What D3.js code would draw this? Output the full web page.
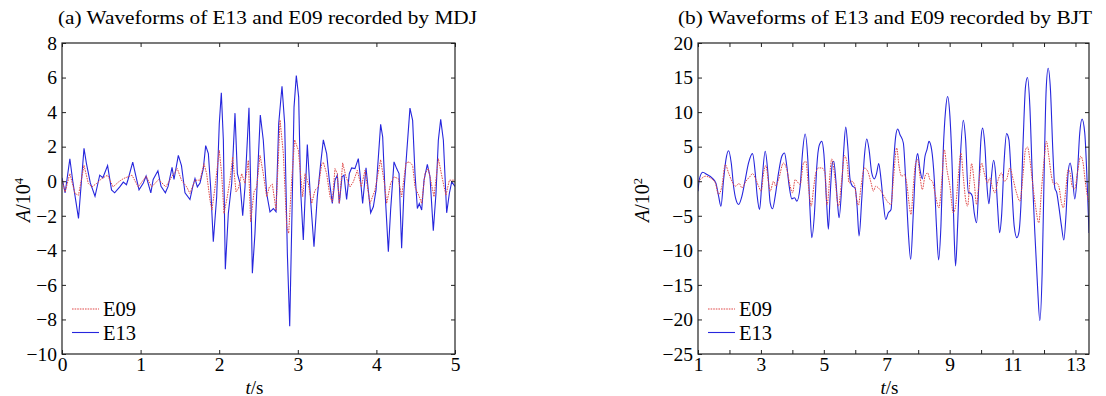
<!DOCTYPE html>
<html><head><meta charset="utf-8">
<script src="https://cdn.jsdelivr.net/npm/d3@7"></script>
<style>
body{margin:0;background:#fff}
svg{display:block}
svg text{font-family:"Liberation Serif","Times New Roman",serif !important;fill:#000}
</style>
</head><body>
<svg id="chart" width="1106" height="396"></svg>
<script>
// ---------- Data ----------
// (a) MDJ, amplitude in 10^4
const mdjTime13 = [0.00,0.04,0.10,0.14,0.21,0.28,0.31,0.36,0.42,0.48,0.52,0.58,0.63,0.67,0.74,0.78,0.82,0.84,0.90,0.94,0.98,1.035,1.07,1.13,1.16,1.22,1.26,1.315,1.35,1.40,1.425,1.48,1.52,1.565,
1.628,1.663,1.692,1.722,1.756,1.798,1.828,1.862,1.891,1.925,1.968,2.001,2.027,2.053,2.078,2.116,2.159,2.201,2.231,2.265,2.299,2.328,2.379,2.40,2.422,2.455,2.485,2.523,2.561,2.604,2.646,2.689,2.723,2.757,2.799,2.833,2.867,2.897,2.926,2.952,2.981,3.011,3.036,3.070,3.121,3.163,3.206,3.248,3.291,3.325,
3.367,3.401,3.439,3.473,3.503,3.528,3.562,3.588,3.621,3.655,3.685,3.727,3.770,3.791,3.825,3.868,3.897,3.927,3.961,3.995,4.025,4.054,4.080,4.109,4.152,4.181,4.224,4.258,4.288,4.321,4.351,4.385,4.427,4.461,4.491,4.521,4.546,4.576,4.606,4.648,4.682,4.724,4.758,4.788,4.818,4.852,4.894,4.928,4.958,5.00];
const mdjE13 = [0.2,-0.67,1.3,-0.1,-2.15,1.9,1.05,-0.1,-0.87,0.35,0.2,0.9,-0.5,-0.67,-0.3,-0.05,-0.2,0.1,1.1,0.3,-0.5,-0.1,0.3,-0.67,0.1,0.6,-0.3,-0.67,-0.3,0.8,0.1,1.5,0.9,-0.67,
-1.06,-0.33,0.15,-0.33,-0.1,0.73,2.06,1.6,-0.33,-3.5,-0.9,3.33,5.12,2.37,-5.1,-1.87,-0.13,3.94,0.44,-0.13,-2.0,-0.33,4.25,-0.13,-5.33,-3.02,0.06,3.83,2.37,-0.71,-1.77,-1.58,-1.77,3.33,5.5,3.33,-4.17,-8.4,-1.87,4.29,6.12,4.87,-0.52,-3.4,2.13,-1.1,-3.79,-0.9,1.02,2.4,
1.6,0.06,-1.29,0.06,0.35,-1.29,0.25,0.35,-1.06,0.44,0.77,0.73,1.31,0.44,-1.29,0.77,-0.52,-1.83,-1.48,-0.52,1.40,3.29,2.56,-0.52,-4.08,-1.67,1.12,0.73,0.44,-3.88,-0.52,1.60,4.23,3.52,0.44,-1.58,-1.29,-1.67,0.06,0.98,0.25,-2.87,-0.71,2.37,3.58,2.37,-1.83,-0.71,-0.04,-0.3];

const mdjTime09 = [0.00,0.04,0.10,0.165,0.21,0.28,0.335,0.38,0.44,0.505,0.58,0.65,0.72,0.78,0.89,0.97,1.07,1.14,1.23,1.32,1.395,1.467,1.52,1.586,
1.628,1.692,1.756,1.806,1.840,1.883,1.908,1.947,2.001,2.031,2.061,2.103,2.137,2.171,2.214,2.244,2.286,2.328,2.371,2.40,2.443,2.477,2.519,2.561,2.604,2.638,2.676,2.723,2.774,2.816,2.859,2.884,2.922,2.960,3.007,3.062,3.092,3.134,3.177,3.219,3.262,3.304,
3.325,3.367,3.410,3.439,3.473,3.503,3.528,3.571,3.613,3.664,3.706,3.757,3.808,3.855,3.918,3.982,4.054,4.109,4.130,4.181,4.224,4.279,4.321,4.376,4.419,4.461,4.491,4.546,4.576,4.618,4.661,4.733,4.788,4.843,4.885,4.928,5.00];
const mdjE09 = [0.06,-0.62,0.44,-0.71,-0.81,0.92,-0.13,-0.33,-0.13,0.15,0.35,-0.33,-0.04,0.15,0.35,-0.33,0.29,-0.33,0.10,-0.33,0.25,0.73,0.06,-0.33,
-0.71,0.06,0.06,1.02,0.44,-1.10,-1.67,-0.33,1.79,0.44,-1.87,-0.90,0.06,1.40,-0.62,-0.42,0.44,-0.13,1.21,-2.35,-0.62,-0.33,1.50,0.44,-0.90,-0.33,-0.17,-1.67,3.54,1.60,-2.63,-3.02,0.06,2.40,1.79,-0.90,0.44,-0.13,-1.29,-0.52,-0.33,1.0,
1.1,0.44,-0.90,-1.19,0.73,0.44,-1.29,1.06,0.25,-0.33,-0.04,0.63,-0.33,0.63,-1.29,-0.52,1.25,-0.33,-1.29,-0.13,0.25,0.15,-0.90,1.06,1.12,0.92,-0.33,-0.90,-1.29,0.44,0.73,-0.90,1.31,0.06,-0.81,0.06,0.06];

// (b) BJT, amplitude in 10^2
const bjtTime13 = [1.00,1.04,1.15,1.285,1.443,1.566,1.655,1.729,1.814,1.888,1.972,2.057,2.131,2.205,2.29,2.396,2.502,2.607,2.734,2.819,2.882,2.957,3.031,3.137,3.222,3.295,3.37,3.454,3.56,3.665,3.75,3.824,3.899,3.983,4.068,4.142,4.248,4.322,4.406,4.491,4.555,4.618,4.703,4.777,4.851,4.936,4.999,5.095,5.145,
5.2,5.274,5.316,5.38,5.443,5.485,5.57,5.634,5.697,5.761,5.835,5.909,5.994,6.057,6.121,6.205,6.29,6.364,6.438,6.523,6.607,6.681,6.745,6.819,6.893,6.967,7.052,7.137,7.211,7.285,7.348,7.422,7.528,7.602,7.687,7.761,7.845,7.919,7.983,8.057,8.131,8.216,8.279,8.343,8.427,8.512,8.586,8.649,8.723,8.798,8.872,8.935,9.009,9.083,9.147,9.189,
9.253,9.327,9.433,9.507,9.592,9.645,9.719,9.782,9.856,9.93,9.994,10.047,10.121,10.195,10.248,10.311,10.396,10.46,10.523,10.587,10.65,10.735,10.809,10.883,10.968,11.052,11.137,11.2,11.264,11.338,11.412,11.475,11.55,11.624,11.708,11.793,11.867,11.941,12.004,12.068,12.131,12.205,12.279,12.343,12.406,12.47,12.555,12.629,12.703,12.766,12.83,12.893,12.978,13.062,13.136,13.21,13.295,13.38,13.43];
const bjtE13 = [-1.44,0.24,1.3,0.96,0.48,-0.24,-2.16,-3.61,0.24,3.13,4.42,2.64,-0.72,-2.64,-3.37,-2.16,0.24,2.64,3.99,1.2,-2.16,-4.09,-0.24,4.33,1.2,-3.13,-3.99,-2.16,1.2,3.61,4.09,2.16,-0.72,-2.55,-2.4,-2.88,-0.72,4.09,6.83,3.13,-3.61,-8.17,-4.57,2.16,5.14,5.77,4.09,-3.61,-6.95,
-2.16,2.64,2.88,0.24,-3.61,-5.29,-0.72,4.57,7.84,5.05,0.24,-0.72,-0.96,-3.61,-7.93,-2.64,3.61,6.11,4.57,1.2,0.34,1.2,2.55,0.24,-3.13,-5.53,-4.57,-4.09,2.16,6.49,7.55,6.73,5.53,0.24,-7.45,-11.3,-4.57,2.16,3.99,1.68,0.34,3.61,4.57,5.77,4.57,0.24,-6.97,-11.39,-6.49,4.57,10.34,12.26,9.38,1.68,-8.41,-12.26,
-6.49,2.16,8.8,6.01,-1.68,-1.68,-2.16,-4.57,-6.01,-0.24,6.01,7.69,5.05,-1.2,-3.27,-0.24,3.03,1.2,-3.61,-7.45,-5.05,3.13,6.88,6.01,-0.24,-6.49,-8.17,-7.45,-3.61,6.01,13.7,15.0,10.82,1.2,-7.45,-15.14,-20.19,-13.22,1.2,13.22,16.35,13.22,4.57,-0.96,-1.68,-3.61,-6.49,-8.51,-4.57,1.2,2.64,1.2,-2.55,1.2,6.97,8.99,6.97,-1.2,-7.5];

const bjtTime09 = [1.0,1.073,1.232,1.39,1.549,1.655,1.761,1.867,1.972,2.078,2.184,2.311,2.396,2.523,2.66,2.734,2.819,2.925,3.01,3.084,3.158,3.243,3.295,3.401,3.475,3.56,3.718,3.824,3.93,4.004,4.089,4.142,4.248,4.354,4.428,4.512,4.597,4.682,4.745,4.83,4.936,5.041,5.10,
5.253,5.359,5.464,5.57,5.655,5.74,5.803,5.888,5.972,6.046,6.099,6.184,6.29,6.396,6.502,6.576,6.65,6.734,6.819,6.946,7.052,7.137,7.211,7.317,7.391,7.475,7.56,7.634,7.708,7.771,7.845,7.919,7.983,8.057,8.131,8.216,8.3,8.374,8.449,8.533,8.66,8.745,8.829,8.914,9.009,9.115,9.189,9.274,
9.359,9.433,9.507,9.57,9.645,9.698,9.782,9.856,9.93,10.015,10.099,10.205,10.279,10.353,10.438,10.544,10.65,10.735,10.809,10.914,11.02,11.126,11.232,11.338,11.412,11.475,11.55,11.624,11.73,11.835,11.92,12.004,12.078,12.152,12.237,12.322,12.396,12.47,12.555,12.618,12.692,12.766,12.83,12.893,12.978,13.062,13.168,13.242,13.316,13.401,13.43];
const bjtE09 = [0,0.24,0.72,0.48,-0.24,-1.92,-0.72,2.4,1.2,0,-0.72,-0.34,-0.96,0,0.72,1.1,0.48,-0.72,-1.44,1.2,2.26,-0.24,-1.44,0,-0.72,0.24,2.64,1.68,-0.72,-1.68,0.24,0,-0.48,2.64,2.88,-0.72,-3.61,-0.72,1.2,1.92,1.92,1.2,-3.4,
3.22,0.24,-3.61,0.24,3.7,2.64,-0.24,0,-0.48,-2.64,-3.46,-0.72,1.92,1.44,-0.24,-1.44,-0.72,-0.96,-1.44,-2.4,-3.13,-3.37,0.24,4.81,2.16,0.72,0.96,-0.24,-3.13,-4.81,-0.72,2.64,3.13,0.72,-1.2,0.72,1.2,0.24,0,-1.68,-3.85,-0.24,4.57,1.68,-0.72,-4.57,-3.61,0.7,
4.09,0.72,-2.64,-3.61,0.24,2.55,-0.24,-3.37,-0.24,2.64,1.2,-0.24,0.48,-0.72,-1.68,0.24,1.2,0,0.24,1.92,0.24,-1.68,-2.88,1.2,4.57,4.95,3.13,0.24,-3.61,-6.01,-1.2,3.13,5.77,3.61,0.72,-0.48,-0.24,-0.72,-3.13,-3.85,-1.2,1.68,1.2,-0.72,-1.1,1.2,3.61,2.64,-0.24,-2.64,-3.0];

// Ticks
const mdjXTicks = [0,1,2,3,4,5];
const mdjYTicks = [-10,-8,-6,-4,-2,0,2,4,6,8];
const bjtXTicks = [1,2,3,4,5,6,7,8,9,10,11,12,13];
const bjtXLabels = [1,3,5,7,9,11,13];
const bjtYTicks = [-25,-20,-15,-10,-5,0,5,10,15,20];
const seriesNames = ["E09","E13"];

const FONT = '"Liberation Serif","Times New Roman",serif';
const COL13 = "#2626dd", COL09 = "#e04a4a";
const svg = d3.select("#chart");
const fmt = d => (d < 0 ? "\u2212" + Math.abs(d) : String(d));

function panel(o){
  const x = d3.scaleLinear().domain(o.xDomain).range([o.left, o.right]);
  const y = d3.scaleLinear().domain(o.yDomain).range([o.bottom, o.top]);
  const g = svg.append("g").attr("font-family", FONT);
  const clipId = "clip" + o.id;
  g.append("clipPath").attr("id", clipId).append("rect")
    .attr("x", o.left).attr("y", o.top).attr("width", o.right - o.left).attr("height", o.bottom - o.top);

  const line = d3.line().x(d => x(d[0])).y(d => y(d[1])).curve(o.curve);
  const d09 = o.t09.map((t,i) => [t, o.v09[i]]);
  const d13 = o.t13.map((t,i) => [t, o.v13[i]]);
  g.append("path").datum(d13).attr("clip-path", `url(#${clipId})`)
    .attr("d", line).attr("fill","none").attr("stroke", COL13).attr("stroke-width", 1.1);
  g.append("path").datum(d09).attr("clip-path", `url(#${clipId})`)
    .attr("d", line).attr("fill","none").attr("stroke", COL09).attr("stroke-width", 1)
    .attr("stroke-dasharray","1.6,1");

  const tk = 4;
  const ax = (gen, tr) => {
    const a = g.append("g").attr("transform", tr).call(gen).attr("font-family", FONT).attr("font-size", 19);
    a.select(".domain").remove();
    a.selectAll(".tick line").attr("stroke","#222");
    a.selectAll("text").style("font-family", FONT).style("font-size","19.5px").attr("fill","#000");
    return a;
  };
  ax(d3.axisBottom(x).tickValues(o.xTicks).tickSize(-tk).tickPadding(3)
      .tickFormat(d => o.xLabels.includes(d) ? fmt(d) : ""), `translate(0,${o.bottom})`);
  ax(d3.axisTop(x).tickValues(o.xTicks).tickSize(-tk).tickFormat(""), `translate(0,${o.top})`);
  ax(d3.axisLeft(y).tickValues(o.yTicks).tickSize(-tk).tickPadding(o.yPad).tickFormat(fmt), `translate(${o.left},0)`);
  ax(d3.axisRight(y).tickValues(o.yTicks).tickSize(-tk).tickFormat(""), `translate(${o.right},0)`);

  g.append("rect").attr("x", o.left).attr("y", o.top)
    .attr("width", o.right - o.left).attr("height", o.bottom - o.top)
    .attr("fill","none").attr("stroke","#222").attr("stroke-width",1.2);

  // title
  g.append("text").attr("x", o.titleX).attr("y", 24).style("font-size","19.5px")
    .attr("textLength", o.titleLen).attr("lengthAdjust","spacingAndGlyphs").text(o.title);

  // x label
  const xl = g.append("text").attr("x", (o.left + o.right)/2 - 4).attr("y", 393.5)
    .attr("text-anchor","middle").style("font-size","19px");
  xl.append("tspan").style("font-style","italic").text("t");
  xl.append("tspan").text("/s");

  // y label
  const yl = g.append("text").attr("transform", `translate(${o.yLabX},200) rotate(-90)`)
    .attr("text-anchor","middle").style("font-size","20px");
  yl.append("tspan").style("font-style","italic").text("A");
  yl.append("tspan").text("/10");
  yl.append("tspan").attr("dy", -7).style("font-size","12.5px").text(o.exp);

  // legend
  const lg = g.append("g");
  const rows = [{name: seriesNames[0], col: COL09, dash: "1.6,1"}, {name: seriesNames[1], col: COL13, dash: null}];
  rows.forEach((r, i) => {
    const yy = 309 + i * 23.5;
    lg.append("line").attr("x1", o.left + 10).attr("x2", o.left + 37).attr("y1", yy).attr("y2", yy)
      .attr("stroke", r.col).attr("stroke-width", 1.1).attr("stroke-dasharray", r.dash);
    lg.append("text").attr("x", o.left + 41).attr("y", yy + 7).style("font-size","20.5px").text(r.name);
  });
}

panel({id:"a", left:62, right:455, top:43, bottom:354,
  xDomain:[0,5], yDomain:[-10,8], xTicks:mdjXTicks, xLabels:mdjXTicks, yTicks:mdjYTicks, yPad:5,
  t13:mdjTime13, v13:mdjE13, t09:mdjTime09, v09:mdjE09, curve:d3.curveLinear,
  title:"(a) Waveforms of E13 and E09 recorded by MDJ", titleX:58, titleLen:419, yLabX:30, exp:"4"});

panel({id:"b", left:698, right:1089, top:43, bottom:354,
  xDomain:[1,13.43], yDomain:[-25,20], xTicks:bjtXTicks, xLabels:bjtXLabels, yTicks:bjtYTicks, yPad:5,
  t13:bjtTime13, v13:bjtE13, t09:bjtTime09, v09:bjtE09, curve:d3.curveMonotoneX,
  title:"(b) Waveforms of E13 and E09 recorded by BJT", titleX:678, titleLen:414, yLabX:649, exp:"2"});
</script>
</body></html>
